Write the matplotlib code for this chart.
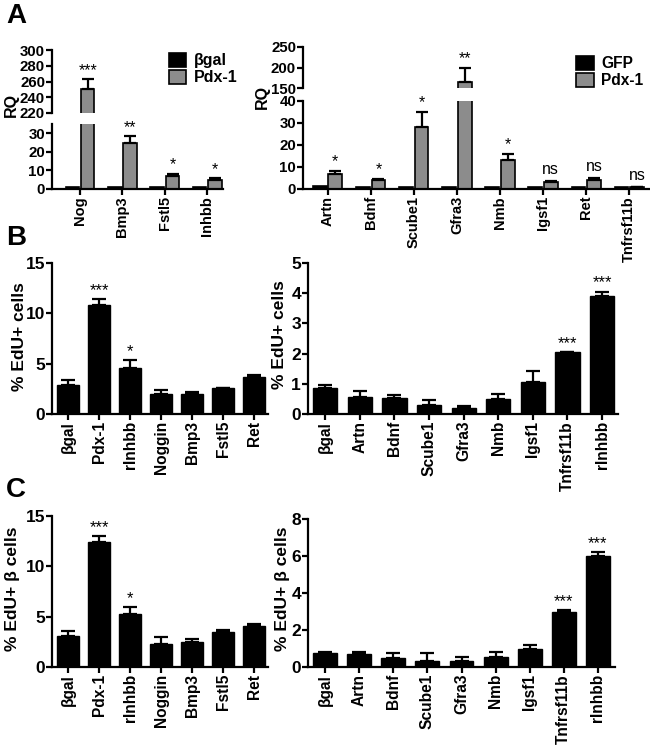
import numpy as np
import matplotlib
matplotlib.use('Agg')
import matplotlib.pyplot as plt
from matplotlib.patches import Patch

plt.rcParams['font.family'] = ['Liberation Sans', 'DejaVu Sans']
plt.rcParams['font.weight'] = 'bold'

# ---- data ----
a_left_genes = ['Nog', 'Bmp3', 'Fstl5', 'Inhbb']
a_left_ctrl = [1.0, 1.0, 1.0, 1.0]
a_left_pdx = [250, 25, 7, 5]
a_left_pdx_err = [13, 3.5, 1.2, 0.7]
a_left_sig = ['***', '**', '*', '*']

a_right_genes = ['Artn', 'Bdnf', 'Scube1', 'Gfra3', 'Nmb', 'Igsf1', 'Ret', 'Tnfrsf11b']
a_right_ctrl = [1.2, 1.0, 1.0, 1.0, 1.0, 1.0, 1.0, 1.0]
a_right_pdx = [7, 4, 28, 165, 13, 3, 4, 0.8]
a_right_pdx_err = [1.2, 0.6, 7, 35, 3, 0.5, 1, 0.2]
a_right_sig = ['*', '*', '*', '**', '*', 'ns', 'ns', 'ns']

left_genes = ['βgal', 'Pdx-1', 'rInhbb', 'Noggin', 'Bmp3', 'Fstl5', 'Ret']
right_genes = ['βgal', 'Artn', 'Bdnf', 'Scube1', 'Gfra3', 'Nmb', 'Igsf1', 'Tnfrsf11b', 'rInhbb']

b_left_vals = [2.93, 10.8, 4.6, 2.0, 2.03, 2.55, 3.72]
b_left_err = [0.41, 0.6, 0.75, 0.38, 0.11, 0.03, 0.17]
b_left_sig = ['', '***', '*', '', '', '', '']

b_right_vals = [0.85, 0.57, 0.52, 0.30, 0.20, 0.50, 1.05, 2.05, 3.92]
b_right_err = [0.12, 0.19, 0.10, 0.15, 0.07, 0.15, 0.37, 0.0, 0.13]
b_right_sig = ['', '', '', '', '', '', '', '***', '***']

c_left_vals = [3.1, 12.4, 5.3, 2.3, 2.5, 3.45, 4.1]
c_left_err = [0.45, 0.6, 0.65, 0.7, 0.25, 0.27, 0.2]
c_left_sig = ['', '***', '*', '', '', '', '']

c_right_vals = [0.75, 0.72, 0.50, 0.30, 0.32, 0.55, 0.98, 2.95, 6.0]
c_right_err = [0.07, 0.08, 0.25, 0.45, 0.22, 0.27, 0.23, 0.12, 0.2]
c_right_sig = ['', '', '', '', '', '', '', '***', '***']

W, H = 650, 750
fig = plt.figure(figsize=(W / 100, H / 100), dpi=100)

LW = 1.6


def px_axes(x0, y0, x1, y1):
    return fig.add_axes([x0 / W, 1 - y1 / H, (x1 - x0) / W, (y1 - y0) / H])


def style(ax, yfs, xfs):
    for s in ['top', 'right']:
        ax.spines[s].set_visible(False)
    for s in ['left', 'bottom']:
        ax.spines[s].set_linewidth(LW)
    ax.tick_params(width=LW, length=4, pad=1)
    ax.tick_params(axis='y', labelsize=yfs)
    ax.tick_params(axis='x', labelsize=xfs)
    for lab in ax.get_yticklabels():
        lab.set_fontweight('bold')


def stars(ax, x, tops, sig, fs):
    for xi, t, s in zip(x, tops, sig):
        if s:
            ax.annotate(s, (xi, t), xytext=(0, 3 if s == 'ns' else 1),
                        textcoords='offset points', ha='center', va='bottom',
                        fontsize=fs, fontweight='normal')


def bar_panel(rect, labels, vals, errs, sig, ylim, yticks, xlim):
    ax = px_axes(*rect)
    x = np.arange(len(labels))
    ax.bar(x, vals, width=0.7, color='black', edgecolor='black', linewidth=1)
    ax.errorbar(x, vals, yerr=[np.zeros(len(x)), errs], fmt='none',
                ecolor='black', elinewidth=LW, capsize=5, capthick=LW)
    stars(ax, x, np.array(vals) + np.array(errs), sig, 12)
    ax.set_xlim(*xlim)
    ax.set_ylim(*ylim)
    ax.set_yticks(yticks)
    ax.set_xticks(x)
    ax.set_xticklabels(labels, rotation=90, fontweight='bold')
    style(ax, 12.5, 11.2)
    return ax


def broken_panel(xr, low_y, up_y, genes, ctrl, pdx, pdx_err, sig,
                 low_lim, low_ticks, up_lim, up_ticks, xlim):
    x = np.arange(len(genes))
    off, bw = 0.18, 0.32
    lo = px_axes(xr[0], low_y[0], xr[1], low_y[1])
    up = px_axes(xr[0], up_y[0], xr[1], up_y[1])
    for ax in (lo, up):
        ax.bar(x - off, ctrl, width=bw, color='black', edgecolor='black', linewidth=1.2)
        ax.bar(x + off, pdx, width=bw, color='#8c8c8c', edgecolor='black', linewidth=1.2)
        ax.errorbar(x + off, pdx, yerr=[np.zeros(len(x)), pdx_err], fmt='none',
                    ecolor='black', elinewidth=LW, capsize=4, capthick=LW)
        ax.set_xlim(*xlim)
        style(ax, 10.8, 10.5)
    tops = np.array(pdx) + np.array(pdx_err)
    for xi, t, s in zip(x + off, tops, sig):
        ax = up if t > low_lim[1] else lo
        ax.annotate(s, (xi, t), xytext=(0, 3 if s == 'ns' else 1),
                    textcoords='offset points', ha='center', va='bottom',
                    fontsize=11.5, fontweight='normal', annotation_clip=False)
    lo.set_ylim(*low_lim)
    lo.set_yticks(low_ticks)
    lo.set_xticks(x)
    lo.set_xticklabels(genes, rotation=90, fontweight='bold')
    up.set_ylim(*up_lim)
    up.set_yticks(up_ticks)
    up.spines['bottom'].set_visible(False)
    up.set_xticks([])
    for ax in (lo, up):
        for lab in ax.get_yticklabels():
            lab.set_fontweight('bold')
    return lo, up


# ---- panel A ----
lo, up = broken_panel((52, 223), (124, 189), (50, 113), a_left_genes, a_left_ctrl,
                      a_left_pdx, a_left_pdx_err, a_left_sig,
                      (0, 35), [0, 10, 20, 30], (220, 300), [220, 240, 260, 280, 300],
                      (-0.66, 3.37))
up.legend(handles=[Patch(facecolor='black', edgecolor='black', lw=1.2, label='βgal'),
                   Patch(facecolor='#8c8c8c', edgecolor='black', lw=1.2, label='Pdx-1')],
          loc='upper left', bbox_to_anchor=(0.645, 1.06), frameon=False,
          prop={'weight': 'bold', 'size': 11.5}, handlelength=1.1, handleheight=1.0,
          handletextpad=0.5, labelspacing=0.1, borderaxespad=0)

lo2, up2 = broken_panel((303, 650), (101, 189), (47, 88), a_right_genes, a_right_ctrl,
                        a_right_pdx, a_right_pdx_err, a_right_sig,
                        (0, 40), [0, 10, 20, 30, 40], (150, 250), [150, 200, 250],
                        (-0.57, 7.48))
up2.legend(handles=[Patch(facecolor='black', edgecolor='black', lw=1.2, label='GFP'),
                    Patch(facecolor='#8c8c8c', edgecolor='black', lw=1.2, label='Pdx-1')],
           loc='upper left', bbox_to_anchor=(0.77, 0.93), frameon=False,
           prop={'weight': 'bold', 'size': 11.2}, handlelength=1.1, handleheight=1.0,
           handletextpad=0.5, labelspacing=0.1, borderaxespad=0)

fig.text(11 / W, 1 - 105 / H, 'RQ', rotation=90, ha='center', va='center', fontsize=11.5, fontweight='bold')
fig.text(262 / W, 1 - 97 / H, 'RQ', rotation=90, ha='center', va='center', fontsize=11.5, fontweight='bold')

# ---- panel B ----
bar_panel((52, 263, 268, 414), left_genes, b_left_vals, b_left_err, b_left_sig,
          (0, 15), [0, 5, 10, 15], (-0.52, 6.45))
bar_panel((308, 263, 618, 414), right_genes, b_right_vals, b_right_err, b_right_sig,
          (0, 5), [0, 1, 2, 3, 4, 5], (-0.5, 8.46))
fig.text(20 / W, 1 - 337 / H, '% EdU+ cells', rotation=90, ha='center', va='center', fontsize=12.5, fontweight='bold')
fig.text(280 / W, 1 - 335 / H, '% EdU+ cells', rotation=90, ha='center', va='center', fontsize=12.5, fontweight='bold')

# ---- panel C ----
bar_panel((52, 516, 268, 667), left_genes, c_left_vals, c_left_err, c_left_sig,
          (0, 15), [0, 5, 10, 15], (-0.52, 6.45))
bar_panel((308, 519, 615, 667), right_genes, c_right_vals, c_right_err, c_right_sig,
          (0, 8), [0, 2, 4, 6, 8], (-0.5, 8.5))
fig.text(13 / W, 1 - 589 / H, '% EdU+ β cells', rotation=90, ha='center', va='center', fontsize=12.5, fontweight='bold')
fig.text(283 / W, 1 - 589 / H, '% EdU+ β cells', rotation=90, ha='center', va='center', fontsize=12.5, fontweight='bold')

# panel letters
for letter, y in [('A', 16), ('B', 238), ('C', 490)]:
    fig.text(16 / W, 1 - y / H, letter, ha='center', va='center', fontsize=20, fontweight='bold')

fig.savefig('out.png', dpi=100)
